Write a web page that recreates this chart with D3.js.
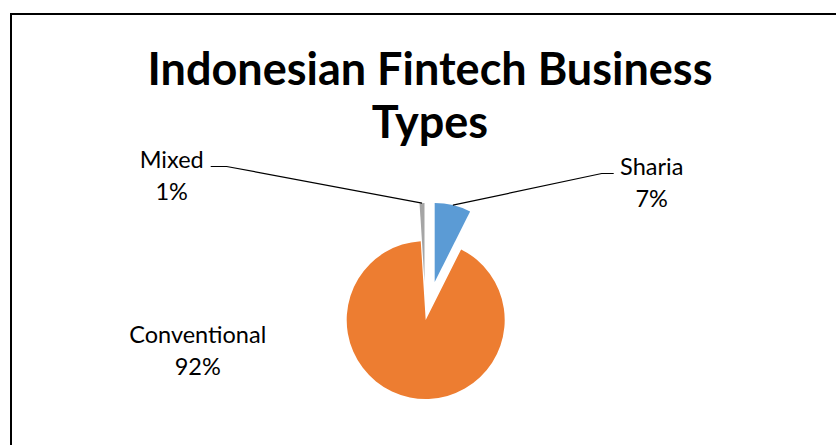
<!DOCTYPE html>
<html>
<head>
<meta charset="utf-8">
<script src="https://cdn.jsdelivr.net/npm/d3@7"></script>
<style>
  body { margin: 0; background: #fff; }
  svg { display: block; font-family: Lato, "Noto Sans", sans-serif; }
</style>
</head>
<body>
<svg id="chart" width="836" height="445"></svg>
<script>
// data
var categories = ["Sharia", "Conventional", "Mixed"];
var shares = [7.4, 91.6, 1.0];
var colors = ["#5B9BD5", "#ED7D31", "#A5A5A5"];
var titleLines = ["Indonesian Fintech Business", "Types"];

// layout
var cx = 425.7, cy = 320, radius = 79;
var explode = [39, 0, 38];
// label anchor (centre, first baseline) relative to pie centre, and knee of the leader
var labelAt = [{dx: 226, dy: -145, knee: -50, edge: -38}, {dx: -228, dy: 23}, {dx: -254, dy: -152, knee: 55, edge: 39}];

var svg = d3.select("#chart");

// outer frame, right and bottom run off the picture
svg.append("rect")
    .attr("x", 11).attr("y", 14)
    .attr("width", 860).attr("height", 460)
    .attr("fill", "none")
    .attr("stroke", "#000")
    .attr("stroke-width", 2);

svg.append("g")
    .attr("class", "title")
    .selectAll("text")
    .data(titleLines)
    .enter().append("text")
    .attr("x", 430)
    .attr("y", function(d, i) { return 85 + i * 53.3; })
    .attr("text-anchor", "middle")
    .attr("font-weight", "bold")
    .attr("font-size", 45)
    .attr("fill", "#000")
    .text(function(d) { return d; });

var total = d3.sum(shares);
var pie = d3.pie().sort(null).value(function(d) { return d; });
var arcs = pie(shares);
var arc = d3.arc().innerRadius(0).outerRadius(radius);

function shift(d, i) {
    var a = (d.startAngle + d.endAngle) / 2;
    return [Math.sin(a) * explode[i], -Math.cos(a) * explode[i]];
}

var slices = svg.append("g")
    .attr("transform", "translate(" + cx + "," + cy + ")");

slices.selectAll("path")
    .data(arcs)
    .enter().append("path")
    .attr("transform", function(d, i) { var s = shift(d, i); return "translate(" + s[0] + "," + s[1] + ")"; })
    .attr("d", arc)
    .attr("fill", function(d, i) { return colors[i]; });

// leader lines for the small slices
slices.selectAll("polyline")
    .data(arcs.filter(function(d, i) { return labelAt[i].knee !== undefined; }))
    .enter().append("polyline")
    .attr("fill", "none")
    .attr("stroke", "#000")
    .attr("stroke-width", 1.2)
    .attr("points", function(d) {
        var i = d.index, s = shift(d, i), a = (d.startAngle + d.endAngle) / 2;
        var p0 = [s[0] + Math.sin(a) * radius, s[1] - Math.cos(a) * radius];
        var L = labelAt[i], ly = L.dy - 1.5;
        return [p0, [L.dx + L.knee, ly], [L.dx + L.edge, ly]].map(function(p) { return p.join(","); }).join(" ");
    });

var labels = slices.selectAll("g.label")
    .data(arcs)
    .enter().append("g")
    .attr("class", "label")
    .attr("transform", function(d, i) { return "translate(" + labelAt[i].dx + "," + labelAt[i].dy + ")"; });

labels.append("text")
    .attr("text-anchor", "middle")
    .attr("font-size", 23.5)
    .attr("fill", "#000")
    .text(function(d, i) { return categories[i]; });

labels.append("text")
    .attr("y", 32)
    .attr("text-anchor", "middle")
    .attr("font-size", 23.5)
    .attr("fill", "#000")
    .text(function(d) { return Math.round(d.value / total * 100) + "%"; });
</script>
</body>
</html>
